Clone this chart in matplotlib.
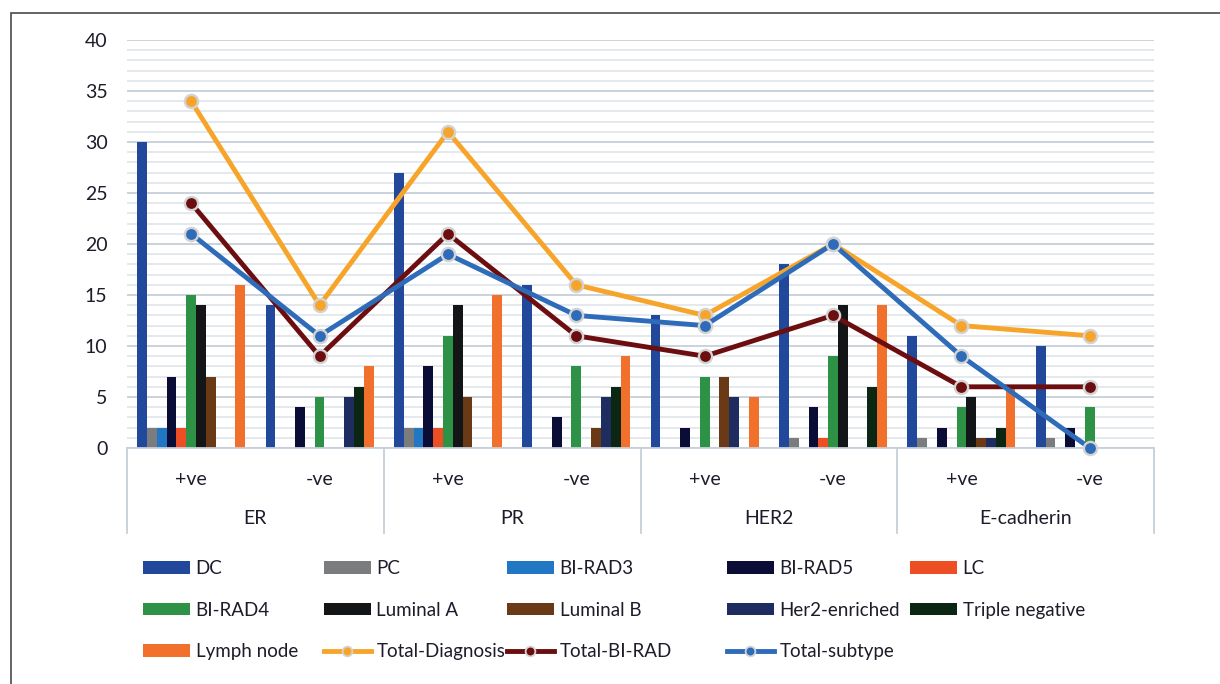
import matplotlib.pyplot as plt
from matplotlib.lines import Line2D
from matplotlib.patches import Patch, Rectangle
from matplotlib.ticker import MultipleLocator
import numpy as np

plt.rcParams['font.family'] = ['Lato', 'DejaVu Sans']

# --- data ---
status = ['+ve', '-ve', '+ve', '-ve', '+ve', '-ve', '+ve', '-ve']
markers = ['ER', 'PR', 'HER2', 'E-cadherin']

dc = [30, 14, 27, 16, 13, 18, 11, 10]
pc = [2, 0, 2, 0, 0, 1, 1, 1]
birad3 = [2, 0, 2, 0, 0, 0, 0, 0]
birad5 = [7, 4, 8, 3, 2, 4, 2, 2]
lc = [2, 0, 2, 0, 0, 1, 0, 0]
birad4 = [15, 5, 11, 8, 7, 9, 4, 4]
luminal_a = [14, 0, 14, 0, 0, 14, 5, 0]
luminal_b = [7, 0, 5, 2, 7, 0, 1, 0]
her2_enriched = [0, 5, 0, 5, 5, 0, 1, 0]
triple_negative = [0, 6, 0, 6, 0, 6, 2, 0]
lymph_node = [16, 8, 15, 9, 5, 14, 6, 0]

total_diagnosis = [34, 14, 31, 16, 13, 20, 12, 11]
total_birad = [24, 9, 21, 11, 9, 13, 6, 6]
total_subtype = [21, 11, 19, 13, 12, 20, 9, 0]

bar_series = [
    ('DC', dc, '#22489c'),
    ('PC', pc, '#7b7c7e'),
    ('BI-RAD3', birad3, '#2277c4'),
    ('BI-RAD5', birad5, '#0c0d36'),
    ('LC', lc, '#ee4e24'),
    ('BI-RAD4', birad4, '#2e9246'),
    ('Luminal A', luminal_a, '#141516'),
    ('Luminal B', luminal_b, '#6a3915'),
    ('Her2-enriched', her2_enriched, '#1f2c5f'),
    ('Triple negative', triple_negative, '#0b2612'),
    ('Lymph node', lymph_node, '#f1702b'),
]
line_series = [
    ('Total-Diagnosis', total_diagnosis, '#f7a52a'),
    ('Total-BI-RAD', total_birad, '#6c0e0f'),
    ('Total-subtype', total_subtype, '#2e6bb9'),
]

TXT = '#1c1c2a'
W, H = 1220, 684
fig = plt.figure(figsize=(W / 100, H / 100), dpi=100)
ax = fig.add_axes([127 / W, (H - 448) / H, 1027 / W, 408 / H])

# outer frame
fig.add_artist(Rectangle((11 / W, -0.1), 1.2, (H - 13) / H + 0.1, transform=fig.transFigure,
                         fill=False, edgecolor='#4a4a4a', lw=1.2))

x = np.arange(len(status))
bw = 0.0765
n = len(bar_series)
for i, (name, vals, col) in enumerate(bar_series):
    ax.bar(x + (i - (n - 1) / 2) * bw, vals, width=bw, color=col, zorder=2)

for name, vals, col in line_series:
    ax.plot(x, vals, color=col, lw=3.5, marker='o', markersize=9.5,
            markerfacecolor=col, markeredgecolor='#d3d3d3', markeredgewidth=1.7,
            zorder=4, clip_on=False)

ax.set_xlim(-0.5, 7.5)
ax.set_ylim(0, 40)
ax.yaxis.set_major_locator(MultipleLocator(5))
ax.yaxis.set_minor_locator(MultipleLocator(1))
ax.grid(axis='y', which='major', color='#c6cfda', lw=1.3, zorder=0)
ax.grid(axis='y', which='minor', color='#e2e7ed', lw=1.3, zorder=0)
ax.set_axisbelow(True)
ax.tick_params(axis='y', which='both', length=0, pad=14, labelsize=14, labelcolor=TXT)
ax.tick_params(axis='x', which='both', length=0, labelbottom=False)
for s in ['top', 'right', 'left']:
    ax.spines[s].set_visible(False)
ax.spines['bottom'].set_color('#c6cfda')
ax.spines['bottom'].set_linewidth(1.3)

# two-level category axis
tr = ax.get_xaxis_transform()
for i, lab in enumerate(status):
    ax.text(x[i], -0.076, lab, transform=tr, ha='center', va='center',
            fontsize=14, color=TXT)
for g, lab in enumerate(markers):
    ax.text(2 * g + 0.5, -0.174, lab, transform=tr, ha='center', va='center',
            fontsize=14, color=TXT)
for b in np.arange(-0.5, 8, 2):
    ax.plot([b, b], [0, -0.208], transform=tr, color='#c6cfda', lw=1.3, clip_on=False)

# legend laid out column by column
bar_handles = {name: Patch(facecolor=col, edgecolor='none') for name, _, col in bar_series}
line_handles = {name: Line2D([], [], color=col, lw=3.5, marker='o', markersize=7,
                             markerfacecolor=col, markeredgecolor='#d3d3d3', markeredgewidth=1.3)
                for name, _, col in line_series}
handles = {**bar_handles, **line_handles}
columns = [
    (143, ['DC', 'BI-RAD4', 'Lymph node']),
    (324, ['PC', 'Luminal A', 'Total-Diagnosis']),
    (507, ['BI-RAD3', 'Luminal B', 'Total-BI-RAD']),
    (727, ['BI-RAD5', 'Her2-enriched', 'Total-subtype']),
    (910, ['LC', 'Triple negative']),
]
for xpx, names in columns:
    fig.legend([handles[nm] for nm in names], names, loc='upper left',
               bbox_to_anchor=(xpx / W, (H - 560) / H), frameon=False,
               fontsize=13.5, labelcolor=TXT, borderpad=0, borderaxespad=0,
               handlelength=2.5, handleheight=0.65, handletextpad=0.3, labelspacing=1.31)

fig.savefig('out.png', dpi=100)
